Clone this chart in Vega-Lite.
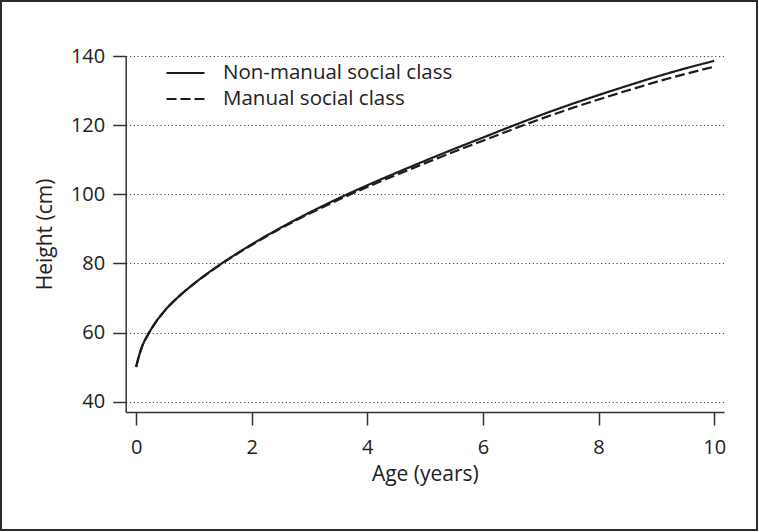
{
  "$schema": "https://vega.github.io/schema/vega-lite/v6.json",
  "autosize": {"type": "none"},
  "padding": {"left": 1, "top": 1, "right": 2, "bottom": 2},
  "width": 756,
  "height": 529,
  "background": "white",
  "config": {
    "view": {"stroke": "#2b2b2b", "strokeWidth": 2},
    "font": "Open Sans"
  },
  "data": {
    "values": [
      {"group": "Non-manual social class", "age": 0, "height": 50},
      {"group": "Non-manual social class", "age": 0.05, "height": 53.2},
      {"group": "Non-manual social class", "age": 0.1, "height": 55.8},
      {"group": "Non-manual social class", "age": 0.2, "height": 59.2},
      {"group": "Non-manual social class", "age": 0.3, "height": 62.0},
      {"group": "Non-manual social class", "age": 0.5, "height": 66.4},
      {"group": "Non-manual social class", "age": 0.75, "height": 70.6},
      {"group": "Non-manual social class", "age": 1.0, "height": 74.1},
      {"group": "Non-manual social class", "age": 1.25, "height": 77.3},
      {"group": "Non-manual social class", "age": 1.5, "height": 80.2},
      {"group": "Non-manual social class", "age": 1.75, "height": 82.9},
      {"group": "Non-manual social class", "age": 2.0, "height": 85.5},
      {"group": "Non-manual social class", "age": 2.5, "height": 90.3},
      {"group": "Non-manual social class", "age": 3.0, "height": 94.7},
      {"group": "Non-manual social class", "age": 3.5, "height": 98.8},
      {"group": "Non-manual social class", "age": 4.0, "height": 102.6},
      {"group": "Non-manual social class", "age": 4.5, "height": 106.2},
      {"group": "Non-manual social class", "age": 5.0, "height": 109.7},
      {"group": "Non-manual social class", "age": 5.5, "height": 113.1},
      {"group": "Non-manual social class", "age": 6.0, "height": 116.4},
      {"group": "Non-manual social class", "age": 6.5, "height": 119.7},
      {"group": "Non-manual social class", "age": 7.0, "height": 122.9},
      {"group": "Non-manual social class", "age": 7.5, "height": 125.9},
      {"group": "Non-manual social class", "age": 8.0, "height": 128.7},
      {"group": "Non-manual social class", "age": 8.5, "height": 131.4},
      {"group": "Non-manual social class", "age": 9.0, "height": 134.0},
      {"group": "Non-manual social class", "age": 9.5, "height": 136.4},
      {"group": "Non-manual social class", "age": 10.0, "height": 138.6},
      {"group": "Manual social class", "age": 0, "height": 50},
      {"group": "Manual social class", "age": 0.05, "height": 53.2},
      {"group": "Manual social class", "age": 0.1, "height": 55.8},
      {"group": "Manual social class", "age": 0.2, "height": 59.2},
      {"group": "Manual social class", "age": 0.3, "height": 62.0},
      {"group": "Manual social class", "age": 0.5, "height": 66.4},
      {"group": "Manual social class", "age": 0.75, "height": 70.6},
      {"group": "Manual social class", "age": 1.0, "height": 74.1},
      {"group": "Manual social class", "age": 1.25, "height": 77.2},
      {"group": "Manual social class", "age": 1.5, "height": 80.1},
      {"group": "Manual social class", "age": 1.75, "height": 82.8},
      {"group": "Manual social class", "age": 2.0, "height": 85.3},
      {"group": "Manual social class", "age": 2.5, "height": 90.1},
      {"group": "Manual social class", "age": 3.0, "height": 94.4},
      {"group": "Manual social class", "age": 3.5, "height": 98.4},
      {"group": "Manual social class", "age": 4.0, "height": 102.1},
      {"group": "Manual social class", "age": 4.5, "height": 105.6},
      {"group": "Manual social class", "age": 5.0, "height": 109.0},
      {"group": "Manual social class", "age": 5.5, "height": 112.3},
      {"group": "Manual social class", "age": 6.0, "height": 115.5},
      {"group": "Manual social class", "age": 6.5, "height": 118.7},
      {"group": "Manual social class", "age": 7.0, "height": 121.8},
      {"group": "Manual social class", "age": 7.5, "height": 124.7},
      {"group": "Manual social class", "age": 8.0, "height": 127.4},
      {"group": "Manual social class", "age": 8.5, "height": 130.0},
      {"group": "Manual social class", "age": 9.0, "height": 132.5},
      {"group": "Manual social class", "age": 9.5, "height": 134.8},
      {"group": "Manual social class", "age": 10.0, "height": 136.9}
    ]
  },
  "mark": {"type": "line", "strokeWidth": 2.2, "color": "#1e1c1d", "interpolate": "monotone"},
  "encoding": {
    "x": {
      "field": "age",
      "type": "quantitative",
      "scale": {"domain": [-0.18, 10.17], "range": [124.7, 723], "nice": false, "zero": false},
      "axis": {
        "title": "Age (years)",
        "values": [0, 2, 4, 6, 8, 10],
        "format": "d",
        "grid": false,
        "offset": -118,
        "domainColor": "#333333",
        "domainWidth": 1.5,
        "tickColor": "#333333",
        "tickWidth": 1.5,
        "tickSize": 13,
        "labelPadding": 12,
        "labelFontSize": 20,
        "labelColor": "#222222",
        "titleFontSize": 21,
        "titleFontWeight": "normal",
        "titleColor": "#222222",
        "titlePadding": 6
      }
    },
    "y": {
      "field": "height",
      "type": "quantitative",
      "scale": {"domain": [37, 140], "range": [411, 55], "nice": false, "zero": false},
      "axis": {
        "title": "Height (cm)",
        "values": [40, 60, 80, 100, 120, 140],
        "format": "d",
        "grid": true,
        "gridDash": [1.2, 2.6],
        "gridColor": "#444444",
        "gridWidth": 1.2,
        "offset": -124.7,
        "domainColor": "#333333",
        "domainWidth": 1.5,
        "tickColor": "#333333",
        "tickWidth": 1.5,
        "tickSize": 13,
        "labelPadding": 8,
        "labelFontSize": 20,
        "labelColor": "#222222",
        "titleFontSize": 21,
        "titleFontWeight": "normal",
        "titleColor": "#222222",
        "titlePadding": 15
      }
    },
    "strokeDash": {
      "field": "group",
      "type": "nominal",
      "scale": {"domain": ["Non-manual social class", "Manual social class"], "range": [[1, 0], [10, 4]]},
      "legend": {
        "orient": "none",
        "legendX": 164,
        "legendY": 59,
        "title": null,
        "direction": "vertical",
        "symbolType": "stroke",
        "symbolSize": 1444,
        "symbolStrokeWidth": 2.2,
        "symbolStrokeColor": "#1e1c1d",
        "labelFontSize": 20.5,
        "labelColor": "#222222",
        "labelOffset": 17,
        "labelLimit": 500,
        "clipHeight": 26,
        "rowPadding": 0
      }
    }
  }
}
